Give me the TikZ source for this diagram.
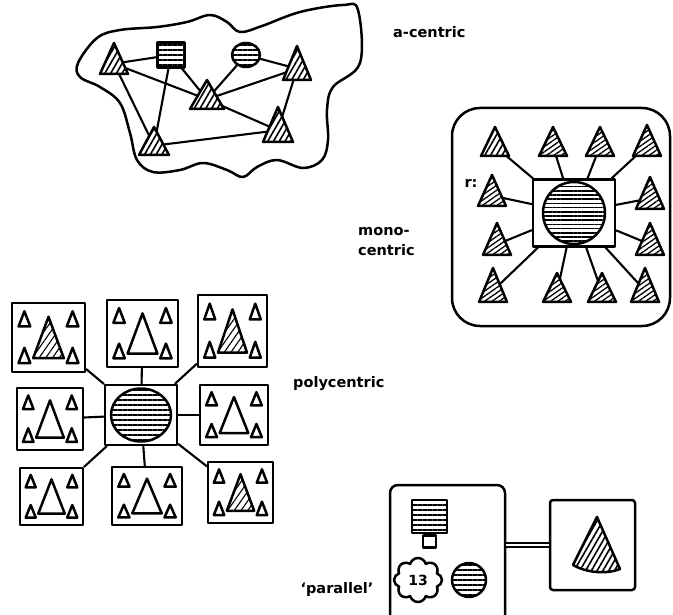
\documentclass[tikz,border=0pt]{standalone}
\usepackage{fontspec}
\newfontfamily\labelfont{DejaVu Sans}
\usetikzlibrary{patterns.meta,shapes.symbols,shapes.geometric,backgrounds,calc}

\tikzset{
  ink/.style={line width=2.5pt, line join=round, line cap=round},
  box/.style={ink, draw, fill=white, inner sep=0pt},
  link/.style={line width=2.1pt, line cap=round},
  hatch/.style={preaction={fill=white}, pattern={Lines[angle=60,distance=5pt,line width=1.6pt]}},
  lhatch/.style={preaction={fill=white}, pattern={Lines[angle=55,distance=5.5pt,line width=1.1pt]}},
  mhatch/.style={preaction={fill=white}, pattern={Lines[angle=35,distance=4.2pt,line width=1.3pt]}},
  hstripe/.style={preaction={fill=white}, pattern={Lines[angle=0,distance=5pt,line width=1.9pt]}},
  lbl/.style={font=\labelfont\bfseries\fontsize{14.5}{20}\selectfont, inner sep=0pt},
}

% [style]{name}{apex x}{apex y}{half width}{base y}
\newcommand\mtri[6][]{%
  \pgfmathsetmacro\tcy{(#4+2*#6)/3}%
  \coordinate (#2) at (#3,\tcy);
  \draw[ink, fill=white, #1] (#3,#4) -- (#3+#5,#6) -- (#3-#5,#6) -- cycle;
}

% [big triangle style]{name}{x1}{y1}{x2}{y2}
\newcommand\pbox[6][]{%
  \pgfmathsetmacro\pbW{#5-#3}%
  \pgfmathsetmacro\pbH{#6-#4}%
  \pgfmathsetmacro\pbX{(#3+#5)/2}%
  \pgfmathsetmacro\pbY{(#4+#6)/2}%
  \node[box, minimum width=\pbW pt, minimum height=\pbH pt] (#2) at (\pbX,\pbY) {};
  \pgfmathsetmacro\pbL{\pbX-0.33*\pbW}%
  \pgfmathsetmacro\pbR{\pbX+0.33*\pbW}%
  \pgfmathsetmacro\pbTa{\pbY-0.38*\pbH}%
  \pgfmathsetmacro\pbTb{\pbY-0.16*\pbH}%
  \pgfmathsetmacro\pbBa{\pbY+0.15*\pbH}%
  \pgfmathsetmacro\pbBb{\pbY+0.37*\pbH}%
  \pgfmathsetmacro\pbs{0.08*\pbW}%
  \pgfmathsetmacro\pbGa{\pbY-0.30*\pbH}%
  \pgfmathsetmacro\pbGb{\pbY+0.30*\pbH}%
  \pgfmathsetmacro\pbg{0.21*\pbW}%
  \mtri[#1]{#2-g}{\pbX}{\pbGa}{\pbg}{\pbGb}
  \mtri{#2-a}{\pbL}{\pbTa}{\pbs}{\pbTb}
  \mtri{#2-b}{\pbR}{\pbTa}{\pbs}{\pbTb}
  \mtri{#2-c}{\pbL}{\pbBa}{\pbs}{\pbBb}
  \mtri{#2-d}{\pbR}{\pbBa}{\pbs}{\pbBb}
}

\begin{document}
\begin{tikzpicture}[x=1pt,y=-1pt]
\useasboundingbox (0,0) rectangle (673,615);
\begin{scope}[on background layer]
  \fill[white] (0,0) rectangle (673,615);
\end{scope}

% ---------------- a-centric ----------------
\draw[ink] plot[smooth cycle, tension=0.6] coordinates {
  (78,63) (97,38) (120,30) (157,27) (187,22) (210,15) (227,22) (240,32)
  (262,26) (300,12) (343,5) (358,10) (360,63) (333,87) (327,110) (328,140)
  (322,160) (303,168) (277,160) (257,167) (243,177) (227,170) (203,163)
  (180,170) (153,172) (137,160) (130,133) (120,103) (100,87) (80,77)};

\mtri[hatch]{a1}{114}{43}{14}{74}
\node[box, hstripe, minimum width=27pt, minimum height=25pt] (asq) at (171,55) {};
\node[box, hstripe, ellipse, minimum width=28pt, minimum height=24pt] (aci) at (246,55) {};
\mtri[hatch]{a2}{297}{46}{14}{80}
\mtri[hatch]{a3}{207}{80}{17}{109}
\mtri[hatch]{a4}{154}{127}{15}{155}
\mtri[hatch]{a5}{278}{107}{15}{142}

\begin{scope}[on background layer]
  \draw[link] (a1) -- (asq);
  \draw[link] (a1) -- (a3);
  \draw[link] (a1) -- (a4);
  \draw[link] (asq) -- (a3);
  \draw[link] (asq) -- (a4);
  \draw[link] (aci) -- (a3);
  \draw[link] (aci) -- (a2);
  \draw[link] (a2) -- (a3);
  \draw[link] (a2) -- (a5);
  \draw[link] (a3) -- (a5);
  \draw[link] (a4) -- (a5);
\end{scope}

\node[lbl, anchor=west] (lac) at (393,32) {a-centric};

% ---------------- mono-centric ----------------
\draw[ink, rounded corners=28pt] (452,108) rectangle (670,326);
\node[box, minimum width=82pt, minimum height=67pt] (msq) at (574,213) {};
\node[ink, draw, circle, minimum size=62pt, inner sep=0pt,
  preaction={fill=white}, pattern={Lines[angle=0,distance=4.2pt,line width=1.6pt]}] (mci) at (574,213) {};
\mtri[hatch]{m1}{495}{127}{14}{156}
\mtri[mhatch]{m2}{553}{127}{14}{156}
\mtri[mhatch]{m3}{600}{127}{14}{156}
\mtri[mhatch]{m4}{647}{125}{14}{156}
\mtri[mhatch]{m5}{492}{175}{14}{206}
\mtri[mhatch]{m6}{497}{223}{14}{255}
\mtri[mhatch]{m7}{650}{177}{14}{209}
\mtri[mhatch]{m8}{650}{223}{14}{255}
\mtri[mhatch]{m9}{493}{268}{14}{302}
\mtri[mhatch]{m10}{557}{273}{14}{302}
\mtri[mhatch]{m11}{602}{273}{14}{302}
\mtri[mhatch]{m12}{645}{268}{14}{302}
\begin{scope}[on background layer]
  \foreach \i in {1,...,12} \draw[link] (m\i) -- (msq);
\end{scope}
\node[lbl] (rlab) at (471,183) {r:};
\node[lbl, anchor=west, align=left] (lmono) at (358,242) {mono-\\centric};

% ---------------- polycentric ----------------
\node[box, minimum width=72pt, minimum height=60pt] (pc) at (141,415) {};
\node[box, hstripe, ellipse, minimum width=60pt, minimum height=53pt] (pcc) at (141,415) {};
\pbox[lhatch]{ptl}{12}{303}{85}{372}
\pbox{ptm}{107}{300}{178}{367}
\pbox[lhatch]{ptr}{198}{295}{267}{367}
\pbox{pml}{17}{388}{83}{450}
\pbox{pmr}{200}{385}{268}{445}
\pbox{pbl}{20}{468}{83}{525}
\pbox{pbm}{112}{467}{182}{525}
\pbox[lhatch]{pbr}{208}{462}{273}{523}
\begin{scope}[on background layer]
  \foreach \b in {ptl,ptm,ptr,pml,pmr,pbl,pbm,pbr} \draw[link] (\b) -- (pc);
\end{scope}
\node[lbl, anchor=west] (lpoly) at (293,384) {polycentric};

% ---------------- parallel ----------------
\node[box, rounded corners=8pt, minimum width=115pt, minimum height=145pt] (pl) at (447.5,557.5) {};
\node[box, hstripe, minimum width=35pt, minimum height=33pt] (prs) at (429.5,516.5) {};
\node[box, minimum width=13pt, minimum height=12pt, anchor=north] (prb) at (prs.south) {};
\node[box, cloud, cloud puffs=8, minimum width=48pt, minimum height=44pt,
  font=\labelfont\bfseries\fontsize{14}{14}\selectfont] (pcl) at (418,580) {13};
\node[box, hstripe, circle, minimum size=34pt] (pci) at (469,580) {};
\node[box, rounded corners=3pt, minimum width=85pt, minimum height=90pt] (pr) at (592.5,545) {};
\draw[ink, hatch] (597,517) -- (620,569) .. controls (605,575) and (585,572) .. (573,565) -- cycle;
\draw[line width=1.6pt, double, double distance=2.6pt] (pr.west -| pl.east) -- (pr.west);
\node[lbl] (lpar) at (337,589) {‘parallel’};
\end{tikzpicture}
\end{document}
